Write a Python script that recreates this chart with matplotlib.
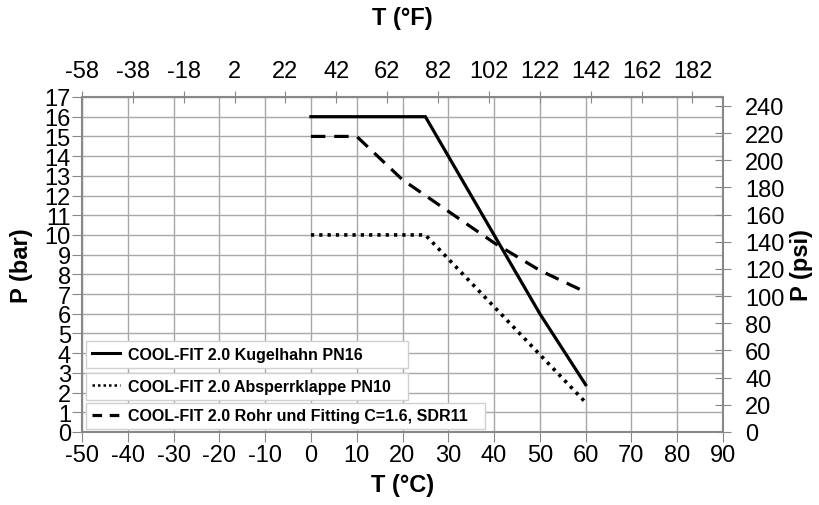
import matplotlib
matplotlib.use("Agg")
import matplotlib.pyplot as plt
from matplotlib.lines import Line2D
import numpy as np

plt.rcParams['font.family'] = ['Liberation Sans', 'DejaVu Sans']
plt.rcParams['axes.unicode_minus'] = False

# Data
temp_kugel = [0, 25, 50, 60]
p_kugel = [16, 16, 6, 2.4]
temp_klappe = [0, 25, 60]
p_klappe = [10, 10, 1.5]
temp_rohr = [0, 10, 20, 30, 40, 50, 60]
p_rohr = [15, 15, 12.8, 11.2, 9.6, 8.2, 7.1]

labels = ["COOL-FIT 2.0 Kugelhahn PN16",
          "COOL-FIT 2.0 Absperrklappe PN10",
          "COOL-FIT 2.0 Rohr und Fitting C=1.6, SDR11"]

c_ticks = list(range(-50, 91, 10))
bar_ticks = list(range(0, 18, 1))
f_ticks = list(range(-58, 183, 20))
psi_ticks = list(range(0, 241, 20))
BAR_TO_PSI = 14.5038

fig = plt.figure(figsize=(8.19, 5.06), dpi=100)
ax = fig.add_axes([82/819, 1-433/506, (723-82)/819, (433-98)/506])

gridc = '#a8a8a8'
spinec = '#888888'
tickfs = 17

ax.set_xlim(-50, 90)
ax.set_ylim(0, 17)
ax.set_xticks(c_ticks)
ax.set_yticks(bar_ticks)
ax.grid(True, color=gridc, linewidth=1.0)
ax.set_axisbelow(True)
for s in ax.spines.values():
    s.set_color(spinec)
    s.set_linewidth(1.5)
ax.tick_params(axis='both', direction='out', length=7, color=spinec, labelsize=tickfs, pad=2)
ax.tick_params(axis='y', pad=1)

l1, = ax.plot(temp_kugel, p_kugel, color='black', lw=2.3, solid_joinstyle='miter', label=labels[0])
l2, = ax.plot(temp_klappe, p_klappe, color='black', lw=2.6, linestyle=(0, (0.9, 1.4)), label=labels[1])
l3, = ax.plot(temp_rohr, p_rohr, color='black', lw=2.3, linestyle=(0, (4.5, 2.8)), label=labels[2])

ax.set_xlabel("T (°C)", fontsize=17, fontweight='bold', labelpad=5)
ax.set_ylabel("P (bar)", fontsize=17, fontweight='bold', labelpad=8)

# Top axis (F)
axt = ax.twiny()
axt.set_xlim(-58, -58 + 140 * 9 / 5)
axt.set_xticks(f_ticks)
axt.tick_params(axis='x', direction='inout', length=9, color=spinec, labelsize=tickfs, pad=6)
axt.set_xlabel("T (°F)", fontsize=17, fontweight='bold', labelpad=26)
for s in axt.spines.values():
    s.set_visible(False)

# Right axis (psi)
axr = ax.twinx()
axr.set_ylim(0, 17 * BAR_TO_PSI)
axr.set_yticks(psi_ticks)
axr.tick_params(axis='y', direction='inout', length=12, color=spinec, labelsize=tickfs, pad=10)
axr.set_ylabel("P (psi)", fontsize=17, fontweight='bold', labelpad=4)
for s in axr.spines.values():
    s.set_visible(False)

# Legend proxies (handle styles as in reference legend)
h1 = Line2D([], [], color='black', lw=2.2)
h2 = Line2D([], [], color='black', lw=1.8, linestyle=(0, (1.0, 1.2)))
h3 = Line2D([], [], color='black', lw=2.3, linestyle=(0.0, (3.0, 2.4)))

# Three separate legend boxes
boxes = [(86, 343, 408, 368), (86, 375, 408, 400), (86, 404, 485, 430)]
for handle, lab, (x0, y0, x1, y1) in zip([h1, h2, h3], labels, boxes):
    leg = fig.legend([handle], [lab], loc='center',
                     bbox_to_anchor=(x0/819, 1-y1/506, (x1-x0)/819, (y1-y0)/506),
                     bbox_transform=fig.transFigure, mode='expand',
                     prop={'size': 11.5, 'weight': 'bold'},
                     frameon=True, fancybox=False, framealpha=1,
                     edgecolor='#d0d0d0', handlelength=1.8, handletextpad=0.5,
                     borderpad=0.35, borderaxespad=0)
    leg.get_frame().set_linewidth(1.0)

fig.savefig("out.png", dpi=100)
